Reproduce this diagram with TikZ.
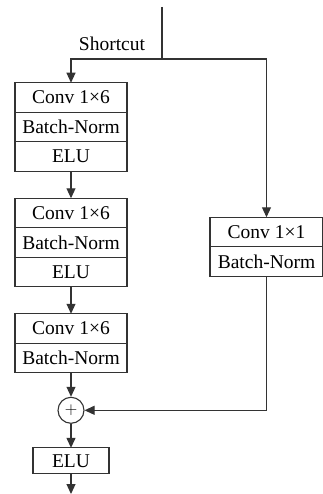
\documentclass[tikz,border=0pt]{standalone}
\usepackage{fontspec}
\setmainfont{Liberation Serif}
\usepackage{tikz}
\usetikzlibrary{arrows.meta,positioning,calc}
\definecolor{ink}{HTML}{333333}

\begin{document}
\begin{tikzpicture}[
  x=1pt, y=1pt,
  node distance=27pt,
  layer/.style={draw=ink, line width=1.1pt, outer sep=0pt, minimum width=112pt, minimum height=29.5pt,
                inner sep=0pt, font=\fontsize{19.5}{22}\selectfont},
  sum/.style={draw=ink, line width=1.1pt, circle, minimum size=26pt, inner sep=0pt,
              font=\fontsize{16}{18}\selectfont},
  arr/.style={-{Triangle[length=10pt,width=9pt]}, draw=ink, line width=1.1pt},
  ln/.style={draw=ink, line width=1.1pt}
]
\useasboundingbox (0,0) rectangle (323,-494);
% main branch
\node[layer] (conv1) at (71,-97.5) {Conv 1×6};
\node[layer, below=0pt of conv1] (bn1) {Batch-Norm};
\node[layer, below=0pt of bn1] (elu1) {ELU};
\node[layer, below=of elu1] (conv2) {Conv 1×6};
\node[layer, below=0pt of conv2] (bn2) {Batch-Norm};
\node[layer, below=0pt of bn2] (elu2) {ELU};
\node[layer, below=of elu2] (conv3) {Conv 1×6};
\node[layer, below=0pt of conv3] (bn3) {Batch-Norm};
\node[sum, below=24pt of bn3] (add) {$+$};
\node[layer, minimum width=76pt, minimum height=26pt, below=24pt of add] (elu4) {ELU};
% shortcut branch
\node[layer, minimum width=113pt] (conv4) at (266.5,-232) {Conv 1×1};
\node[layer, minimum width=113pt, below=0pt of conv4] (bn4) {Batch-Norm};
\coordinate (in) at (162,-7);
\coordinate (split) at (162,-59);
\coordinate (out) at (71,-494);
\node[font=\fontsize{19.5}{22}\selectfont] (lbl) at (112,-44) {Shortcut};

\draw[ln] (in) -- (split);
\draw[arr] (split) -| (conv1);
\draw[arr] (split) -| (conv4);
\foreach \i/\j in {elu1/conv2,elu2/conv3,bn3/add,add/elu4,elu4/out} \draw[arr] (\i) -- (\j);
\draw[arr] (bn4.south) |- (add);
\end{tikzpicture}
\end{document}
